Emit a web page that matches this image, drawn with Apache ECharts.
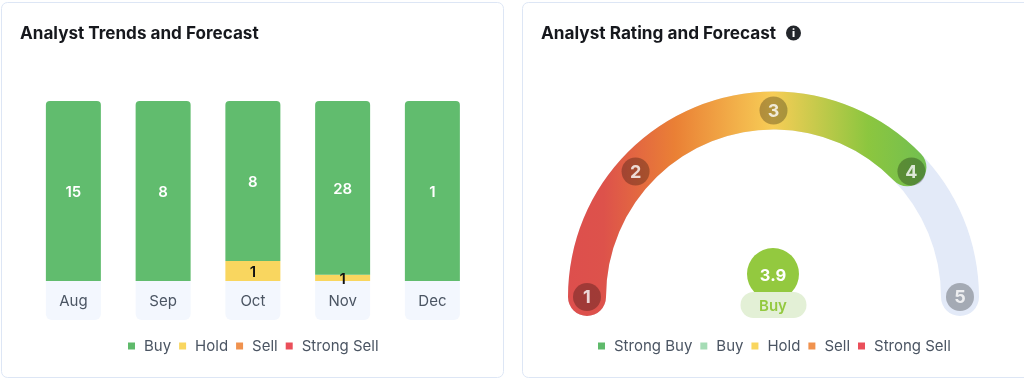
<!DOCTYPE html>
<html><head><meta charset="utf-8">
<style>html,body{margin:0;padding:0;background:#fff}#c{width:1024px;height:380px}</style>
<script src="https://cdn.jsdelivr.net/npm/echarts@6/dist/echarts.min.js"></script>
</head><body><div id="c"></div>
<script>
var months = ['Aug','Sep','Oct','Nov','Dec'];
var buy = [15,8,8,28,1];
var hold = [0,0,1,1,0];
var sell = [0,0,0,0,0];
var strongSell = [0,0,0,0,0];
var ratingValue = 3.9;
var ratingName = 'Buy';
var fillEnd = 4.02;
var scaleTicks = [1,2,3,4,5];
var tickPositions = [1,1.94,3,4.06,5];
var font = 'Inter';
var totals = months.map(function(_,i){return buy[i]+hold[i]+sell[i]+strongSell[i];});
function share(arr){return arr.map(function(v,i){return {value:v/totals[i],raw:v};});}
function barSeries(name,arr,color,labelColor,radius){
  return {type:'bar',name:name,stack:'a',xAxisIndex:0,yAxisIndex:0,barWidth:55,data:share(arr),
    itemStyle:{color:color,borderRadius:radius||0},
    label:{show:true,position:'inside',offset:[0,1.5],color:labelColor,fontFamily:font,fontSize:15,fontWeight:600,
      formatter:function(p){return p.data.raw?String(p.data.raw):'';}}};
}
var legendText={color:'#4b5563',fontFamily:font,fontSize:15,padding:[0,0,0,4]};
var chart=echarts.init(document.getElementById('c'),null,{renderer:'canvas'});
chart.setOption({
  animation:false,
  grid:{left:28.5,top:101,width:448.75,height:180},
  xAxis:{type:'category',data:months,axisLine:{show:false},axisTick:{show:false},
    axisLabel:{interval:0,margin:0,verticalAlign:'top',align:'center',width:55,height:37,lineHeight:37,padding:[2,0,0,0],
      backgroundColor:'#f3f7fe',borderRadius:[0,0,6,6],color:'#4b5563',fontFamily:font,fontSize:15}},
  yAxis:{type:'value',min:0,max:1,show:false},
  polar:{center:[773.5,297],radius:186.5},
  angleAxis:{type:'value',min:1,max:9,startAngle:180,clockwise:true,show:false},
  radiusAxis:{type:'value',min:0,max:1,show:false},
  legend:[
    {left:123,top:333.5,itemWidth:7,itemHeight:7,itemGap:8,icon:'rect',selectedMode:false,textStyle:legendText,
      data:[{name:'Buy',itemStyle:{color:'#5fba6b'}},{name:'Hold',itemStyle:{color:'#f9d65f'}},
            {name:'Sell',itemStyle:{color:'#f0924e'}},{name:'Strong Sell',itemStyle:{color:'#ea4f5a'}}]},
    {left:593,top:333.5,itemWidth:7,itemHeight:7,itemGap:8,icon:'rect',selectedMode:false,textStyle:legendText,
      data:[{name:'Strong Buy',itemStyle:{color:'#5fba6b'}},{name:'Buy',itemStyle:{color:'#a5dcb5'}},
            {name:'Hold',itemStyle:{color:'#f9d65f'}},{name:'Sell',itemStyle:{color:'#f0924e'}},
            {name:'Strong Sell',itemStyle:{color:'#ea4f5a'}}]}
  ],
  series:[
    barSeries('Strong Sell',strongSell,'#ea4f5a','#111'),
    barSeries('Sell',sell,'#f0924e','#111'),
    barSeries('Hold',hold,'#f9d65f','#111'),
    barSeries('Buy',buy,'#61bc6e','#fff',[4,4,0,0]),
    {type:'bar',name:'Strong Buy',stack:'a',data:[],itemStyle:{color:'#5fba6b'}},
    {type:'gauge',center:[773.5,297],radius:205.5,startAngle:180,endAngle:0,min:1,max:5,
      axisLine:{roundCap:true,lineStyle:{width:38,color:[[1,'#e3eaf8']]}},
      progress:{show:true,roundCap:true,width:38,overlap:true,
        itemStyle:{color:{type:'linear',x:568,y:0,x2:925,y2:0,global:true,colorStops:[
          {offset:0,color:'#dd4f4d'},{offset:0.1,color:'#dd524b'},{offset:0.3,color:'#ea8035'},
          {offset:0.574,color:'#f7cd56'},{offset:0.84,color:'#8cc63f'},{offset:1,color:'#72bf50'}]}}},
      splitLine:{show:false},axisTick:{show:false},axisLabel:{show:false},pointer:{show:false},
      anchor:{show:false},title:{show:false},detail:{show:false},data:[{value:fillEnd}]},
    {type:'scatter',coordinateSystem:'polar',symbol:'circle',symbolSize:28,z:5,
      itemStyle:{color:'rgba(0,0,0,0.34)'},
      label:{show:true,position:'inside',offset:[0,1],color:'#fff',fontFamily:font,fontSize:18,fontWeight:700,
        formatter:function(p){return String(scaleTicks[p.dataIndex]);}},
      data:tickPositions.map(function(t){return [1,t];})}
  ],
  graphic:[
    {type:'rect',z:-10,shape:{x:1.5,y:2.5,width:502,height:375,r:6},style:{fill:'#fff',stroke:'#dde6f5',lineWidth:1}},
    {type:'rect',z:-10,shape:{x:522.5,y:2.5,width:530,height:375,r:6},style:{fill:'#fff',stroke:'#dde6f5',lineWidth:1}},
    {type:'text',x:20,y:25.5,style:{text:'Analyst Trends and Forecast',fill:'#16181d',font:'700 17.1px '+font}},
    {type:'text',x:541,y:25.5,style:{text:'Analyst Rating and Forecast',fill:'#16181d',font:'700 17.2px '+font}},
    {type:'circle',shape:{cx:793.5,cy:33,r:7.5},style:{fill:'#23262b'}},
    {type:'text',x:793.5,y:33.5,style:{text:'i',fill:'#fff',font:'800 11px '+font,align:'center',verticalAlign:'middle'}},
    {type:'circle',z:10,shape:{cx:773,cy:274,r:26},style:{fill:'#93c93f'}},
    {type:'text',z:11,x:773,y:276,style:{text:ratingValue.toFixed(1),fill:'#fff',font:'700 16.5px '+font,align:'center',verticalAlign:'middle'}},
    {type:'rect',z:12,shape:{x:740.5,y:292,width:66,height:26,r:13},style:{fill:'#e3f0d6'}},
    {type:'text',z:13,x:773,y:306.5,style:{text:ratingName,fill:'#93c93f',font:'600 15px '+font,align:'center',verticalAlign:'middle'}}
  ]
});
</script></body></html>
